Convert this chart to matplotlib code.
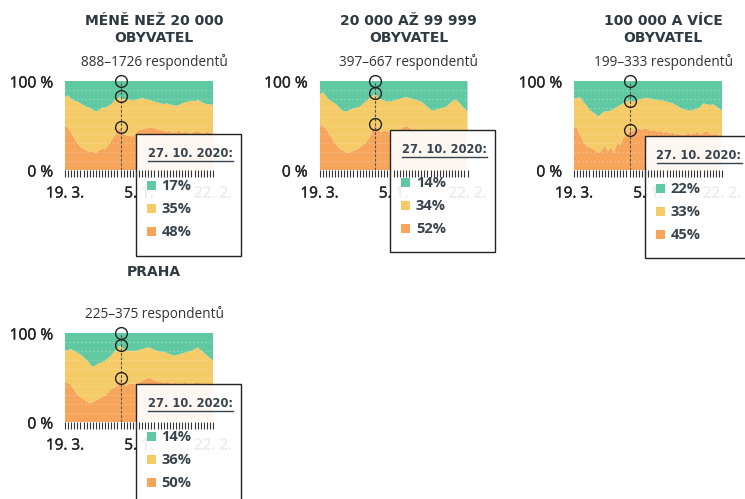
import matplotlib
matplotlib.use('Agg')
import matplotlib.pyplot as plt
from matplotlib.patches import Rectangle
from matplotlib.lines import Line2D
from matplotlib.transforms import IdentityTransform
import matplotlib.patheffects as pe

W, H = 745, 499

# ---------------- data ----------------
titles = [["MÉNĚ NEŽ 20 000", "OBYVATEL"],
          ["20 000 AŽ 99 999", "OBYVATEL"],
          ["100 000 A VÍCE", "OBYVATEL"],
          ["PRAHA"]]
subtitles = ["888–1726 respondentů", "397–667 respondentů",
             "199–333 respondentů", "225–375 respondentů"]
x_tick_labels = {0: "19. 3.", 24: "5. 1.", 48: "22. 2."}
y_tick_labels = {0: "0 %", 100: "100 %"}
highlight_index = 18
highlight_label = "27. 10. 2020:"

orange_1 = [50, 48, 42, 36, 30, 26, 24, 22, 20, 21, 19, 22, 24, 23, 28, 33, 38, 44, 48, 40,
            39, 38, 38, 42, 45, 46, 47, 47, 48, 47, 46, 45, 44, 43, 44, 42, 43, 44, 42, 43,
            42, 41, 43, 44, 42, 41, 43, 42, 41]
yellow_1 = [32, 36, 38, 42, 47, 49, 49, 49, 50, 47, 47, 45, 46, 47, 44, 41, 40, 36, 35, 39,
            41, 41, 40, 37, 35, 35, 33, 32, 30, 30, 30, 30, 30, 32, 30, 31, 29, 29, 33, 33,
            35, 37, 34, 35, 35, 34, 31, 32, 32]
green_1 = [18, 16, 20, 22, 23, 25, 27, 29, 30, 32, 34, 33, 30, 30, 28, 26, 22, 20, 17, 21,
           20, 21, 22, 21, 20, 19, 20, 21, 22, 23, 24, 25, 26, 25, 26, 27, 28, 27, 25, 24,
           23, 22, 23, 21, 23, 25, 26, 26, 27]

orange_2 = [51, 50, 47, 42, 36, 30, 26, 23, 21, 19, 20, 22, 23, 25, 28, 31, 35, 44, 52, 46,
            42, 45, 43, 42, 44, 46, 45, 48, 50, 48, 45, 44, 45, 44, 43, 42, 41, 42, 43, 44,
            43, 42, 44, 45, 43, 42, 41, 40, 41]
yellow_2 = [33, 38, 37, 37, 41, 45, 46, 45, 45, 47, 48, 47, 47, 46, 46, 46, 45, 39, 34, 35,
            37, 33, 34, 35, 34, 33, 35, 33, 32, 33, 35, 35, 33, 33, 31, 29, 27, 25, 25, 25,
            27, 29, 30, 32, 36, 35, 32, 29, 25]
green_2 = [16, 12, 16, 21, 23, 25, 28, 32, 34, 34, 32, 31, 30, 29, 26, 23, 20, 17, 14, 19,
           21, 22, 23, 23, 22, 21, 20, 19, 18, 19, 20, 21, 22, 23, 26, 29, 32, 33, 32, 31,
           30, 29, 26, 23, 21, 23, 27, 31, 34]

orange_3 = [49, 47, 40, 32, 27, 25, 24, 22, 19, 22, 28, 21, 26, 19, 31, 28, 36, 39, 45, 44,
            46, 47, 45, 47, 46, 44, 45, 43, 44, 42, 43, 41, 42, 40, 41, 39, 40, 42, 40, 41,
            43, 40, 42, 44, 41, 40, 41, 39, 40]
yellow_3 = [31, 34, 42, 45, 46, 43, 41, 41, 41, 42, 38, 45, 41, 50, 40, 45, 39, 38, 33, 33,
            32, 32, 35, 34, 35, 36, 34, 36, 34, 36, 34, 35, 33, 33, 30, 30, 28, 25, 27, 27,
            26, 31, 33, 30, 32, 34, 31, 30, 27]
green_3 = [20, 19, 18, 23, 27, 32, 35, 37, 40, 36, 34, 34, 33, 31, 29, 27, 25, 23, 22, 23,
           22, 21, 20, 19, 19, 20, 21, 21, 22, 22, 23, 24, 25, 27, 29, 31, 32, 33, 33, 32,
           31, 29, 25, 26, 27, 26, 28, 31, 33]

orange_4 = [45, 44, 42, 36, 31, 28, 26, 23, 21, 22, 24, 26, 28, 30, 33, 37, 39, 41, 50, 42,
            41, 43, 43, 43, 44, 46, 48, 50, 49, 47, 46, 45, 44, 45, 44, 43, 44, 42, 43, 44,
            43, 42, 44, 45, 43, 42, 41, 42, 40]
yellow_4 = [35, 37, 40, 44, 47, 48, 47, 47, 45, 40, 40, 40, 39, 39, 39, 38, 40, 42, 36, 40,
            39, 37, 37, 37, 37, 36, 35, 34, 34, 34, 34, 34, 35, 33, 32, 32, 31, 34, 34, 34,
            36, 38, 38, 39, 38, 36, 34, 30, 29]
green_4 = [20, 19, 18, 20, 22, 24, 27, 30, 34, 38, 36, 34, 33, 31, 28, 25, 21, 17, 14, 18,
           20, 20, 20, 20, 19, 18, 17, 16, 17, 19, 20, 21, 21, 22, 24, 25, 25, 24, 23, 22,
           21, 20, 18, 16, 19, 22, 25, 28, 31]

orange_series = [orange_1, orange_2, orange_3, orange_4]
yellow_series = [yellow_1, yellow_2, yellow_3, yellow_4]
green_series = [green_1, green_2, green_3, green_4]

# ---------------- style ----------------
C_OR, C_YE, C_GR = '#F7A55B', '#F4CB66', '#60C9A2'
TXT = '#222222'
TITLE_C = '#2E3A42'
BOX_TXT = '#37434D'
THICK = [pe.withStroke(linewidth=0.25, foreground=TXT)]

plt.rcParams['font.family'] = ['Open Sans', 'DejaVu Sans']

fig = plt.figure(figsize=(W / 100, H / 100), dpi=100)
IDT = IdentityTransform()

PW, PH = 148, 89
lefts = [65, 319.5, 574, 65]
tops = [81, 81, 81, 333]


def disp(px, py):
    return px, H - py


date_texts = []
for k in range(4):
    left, top = lefts[k], tops[k]
    orange, yellow, green = orange_series[k], yellow_series[k], green_series[k]
    n = len(orange)
    xs = list(range(n))
    ax = fig.add_axes([left / W, 1 - (top + PH) / H, PW / W, PH / H])
    ax.set_facecolor('none')
    ax.stackplot(xs, orange, yellow, green, colors=[C_OR, C_YE, C_GR],
                 linewidth=0, zorder=1)
    ax.set_xlim(0, n - 1)
    ax.set_ylim(0, 100)
    for s in ax.spines.values():
        s.set_visible(False)
    for g in range(10, 100, 10):
        ax.axhline(g, color='white', lw=0.9, ls=(0, (1, 2.2)), alpha=0.35, zorder=1.5)
    ax.set_xticks(xs)
    ax.set_xticklabels([])
    ax.tick_params(axis='x', length=5, width=0.8, color='#333333', direction='out', pad=0)
    ax.set_yticks([])
    ax.xaxis.set_zorder(4.5)

    # y labels
    for v, lab in y_tick_labels.items():
        ypx = top + PH * (1 - v / 100) + 6.5
        ax.text(*disp(left - 12, ypx), lab, transform=IDT, ha='right', va='baseline',
                fontsize=11.2, color=TXT, clip_on=False, zorder=3, path_effects=THICK)
    # x labels (drawn below the tooltip box)
    for i, lab in x_tick_labels.items():
        xd = ax.transData.transform((i, 0))[0]
        ax.text(xd, H - (top + PH + 27.5), lab, transform=IDT, ha='center', va='baseline',
                fontsize=11, color=TXT, clip_on=False, zorder=3, path_effects=THICK)

    # titles
    cx = left + 89
    if len(titles[k]) == 2:
        fig.text(cx / W, 1 - (top - 56) / H, titles[k][0], ha='center', va='baseline',
                 fontsize=10, fontweight='bold', color=TITLE_C, family=['DejaVu Sans'])
        fig.text(cx / W, 1 - (top - 38.5) / H, titles[k][1], ha='center', va='baseline',
                 fontsize=10, fontweight='bold', color=TITLE_C, family=['DejaVu Sans'])
    else:
        fig.text(cx / W, 1 - (top - 57) / H, titles[k][0], ha='center', va='baseline',
                 fontsize=10, fontweight='bold', color=TITLE_C, family=['DejaVu Sans'])
    fig.text(cx / W, 1 - (top - 14.5) / H, subtitles[k], ha='center', va='baseline',
             fontsize=9.8, color='#333333')

    # highlight
    hi = highlight_index
    o, yv = orange[hi], yellow[hi]
    ax.plot([hi, hi], [0, 100], color='#555555', lw=0.8, ls=(0, (2.5, 1.5)), zorder=2.8)
    ax.plot([hi, hi, hi], [100, o + yv, o], 'o', mfc='none', mec='#222222', ms=8.5,
            mew=1.0, zorder=3, clip_on=False)

    # tooltip box
    oy_disp = ax.transData.transform((hi, o))[1]
    box_top = oy_disp - 6.5           # display coords (from bottom)
    box_left = left + 70.5
    bw, bh = 105, 122
    ax.add_patch(Rectangle((box_left, box_top - bh), bw, bh, transform=IDT,
                           facecolor=(1, 1, 1, 0.92), edgecolor='#222222', lw=1.0,
                           clip_on=False, zorder=4))
    t = ax.text(box_left + 12, box_top - 23, highlight_label, transform=IDT,
                ha='left', va='baseline', fontsize=8.3, fontweight='bold',
                color=BOX_TXT, family=['DejaVu Sans'], clip_on=False, zorder=5)
    date_texts.append((ax, t, box_left + 12, box_top - 27))
    vals = [green[hi], yellow[hi], orange[hi]]
    cols = [C_GR, C_YE, C_OR]
    for j, (v, c) in enumerate(zip(vals, cols)):
        cy = box_top - (52 + 23 * j)
        ax.add_patch(Rectangle((box_left + 11, cy - 4.5), 9, 9, transform=IDT,
                               facecolor=c, edgecolor='none', clip_on=False, zorder=5))
        ax.text(box_left + 26, cy - 4.6, f"{v}%", transform=IDT, ha='left',
                va='baseline', fontsize=10.5, fontweight='bold', color=BOX_TXT,
                clip_on=False, zorder=5)

fig.canvas.draw()
r = fig.canvas.get_renderer()
for ax, t, x0, yl in date_texts:
    bb = t.get_window_extent(renderer=r)
    ax.add_line(Line2D([x0, bb.x1], [yl, yl], transform=IDT, color=BOX_TXT, lw=1.0,
                       clip_on=False, zorder=5))

fig.savefig('out.png', dpi=100)
